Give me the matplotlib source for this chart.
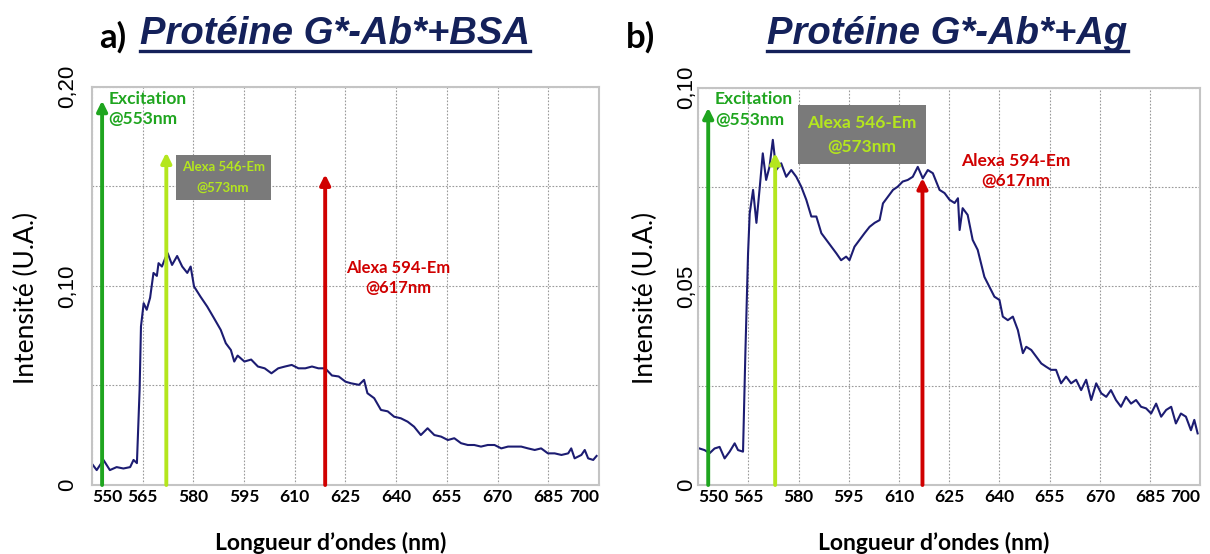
import matplotlib
matplotlib.use("Agg")
import matplotlib.pyplot as plt
from matplotlib.lines import Line2D

# spectrum a) Protéine G*-Ab*+BSA
a_nm = [549.9, 551.4, 553.4, 555.3, 557.3, 559.3, 561.3, 562.3, 563.3, 564.1,
        564.5, 565.3, 566.2, 567.2, 568.2, 569.2, 569.7, 570.7, 571.7, 572.4,
        573.7, 575.2, 576.7, 578.2, 579.2, 580.2, 582.1, 584.1, 586.1, 588.1,
        589.6, 591.1, 592.1, 593.1, 595.1, 597.1, 599.1, 601.1, 603.1, 605.1,
        607.1, 609.1, 611.1, 613.1, 615.1, 617.0, 619.0, 621.0, 623.0, 625.0,
        626.6, 629.0, 630.5, 631.5, 633.5, 635.5, 637.5, 639.4, 641.4, 643.4,
        645.3, 647.3, 649.3, 651.3, 653.3, 655.3, 657.2, 659.2, 661.2, 663.1,
        665.1, 667.1, 669.1, 671.1, 673.1, 675.0, 677.0, 679.0, 681.0, 682.9,
        684.9, 686.9, 688.9, 690.9, 691.8, 692.8, 694.8, 695.8, 696.8, 698.3,
        699.3]
a_val = [0.0109, 0.0075, 0.0126, 0.0075, 0.0090, 0.0083, 0.0090, 0.0126, 0.0110, 0.048,
         0.0796, 0.0913, 0.088, 0.094, 0.1065, 0.105, 0.1114, 0.1097, 0.114, 0.1164,
         0.1105, 0.115, 0.1097, 0.1065, 0.1097, 0.0997, 0.0946, 0.0896, 0.0838, 0.0779,
         0.0712, 0.0678, 0.062, 0.065, 0.062, 0.063, 0.0595, 0.0586, 0.0561, 0.0586,
         0.0595, 0.0603, 0.0586, 0.0586, 0.0595, 0.0586, 0.0586, 0.055, 0.0545, 0.0519,
         0.0511, 0.0503, 0.0528, 0.0461, 0.0436, 0.0377, 0.037, 0.0343, 0.0335, 0.0318,
         0.0293, 0.0251, 0.0285, 0.0251, 0.0243, 0.0226, 0.0235, 0.021, 0.0201, 0.0201,
         0.0193, 0.0201, 0.0201, 0.0184, 0.0193, 0.0193, 0.0193, 0.0184, 0.0176, 0.0184,
         0.0159, 0.0159, 0.0151, 0.0159, 0.0184, 0.0134, 0.0151, 0.0176, 0.0134, 0.0126,
         0.0146]

# spectrum b) Protéine G*-Ab*+Ag
b_nm = [550.4, 551.9, 553.4, 554.9, 556.4, 557.9, 559.4, 560.9, 561.9, 563.4,
        564.1, 564.9, 565.4, 566.4, 567.4, 568.4, 569.3, 570.3, 571.3, 572.3,
        573.3, 574.8, 576.3, 577.8, 579.3, 580.8, 582.3, 583.8, 585.3, 586.8,
        588.3, 589.8, 591.3, 592.7, 594.2, 595.2, 596.7, 598.2, 599.7, 601.2,
        602.7, 604.2, 605.2, 606.7, 608.2, 609.6, 611.1, 612.6, 614.1, 615.6,
        617.1, 618.6, 620.1, 622.1, 623.6, 625.1, 626.6, 627.6, 628.1, 629.0,
        630.5, 632.0, 633.5, 634.5, 635.5, 637.0, 638.5, 640.0, 641.0, 642.5,
        644.0, 645.5, 647.0, 648.0, 649.5, 651.0, 652.5, 653.9, 655.4, 656.9,
        658.4, 659.9, 661.4, 662.9, 664.4, 665.9, 667.4, 668.9, 670.4, 671.9,
        673.3, 674.8, 676.3, 677.8, 679.3, 680.8, 682.3, 683.8, 685.3, 686.8,
        688.3, 689.8, 691.3, 692.7, 694.2, 695.7, 697.2, 698.2, 699.2]
b_val = [0.0092, 0.0088, 0.008, 0.0092, 0.0096, 0.0067, 0.0084, 0.0105, 0.0088, 0.0084,
         0.0332, 0.0583, 0.0684, 0.0743, 0.066, 0.075, 0.0835, 0.0768, 0.0801, 0.0869,
         0.0793, 0.081, 0.0776, 0.0793, 0.0776, 0.0751, 0.0718, 0.0676, 0.0676, 0.0634,
         0.0617, 0.06, 0.0583, 0.0566, 0.0575, 0.0566, 0.06, 0.0617, 0.0634, 0.065,
         0.066, 0.0667, 0.0709, 0.0726, 0.0743, 0.0751, 0.0764, 0.0768, 0.0776, 0.0801,
         0.0772, 0.0793, 0.0785, 0.0743, 0.0735, 0.0718, 0.071, 0.0722, 0.0642, 0.0697,
         0.068, 0.0617, 0.0592, 0.0558, 0.0524, 0.0499, 0.0474, 0.0466, 0.0424, 0.0415,
         0.0424, 0.039, 0.0332, 0.0348, 0.034, 0.0323, 0.0306, 0.0298, 0.029, 0.029,
         0.0256, 0.0273, 0.0256, 0.0265, 0.0239, 0.0265, 0.0214, 0.0256, 0.0231, 0.0222,
         0.0239, 0.0214, 0.0197, 0.0222, 0.0205, 0.0214, 0.0197, 0.0193, 0.018, 0.0205,
         0.0172, 0.0189, 0.0197, 0.0155, 0.018, 0.0172, 0.0138, 0.0164, 0.013]

x_ticks = [550, 565, 580, 595, 610, 625, 640, 655, 670, 685, 700]

# arrow positions (nm) and tops, per panel
a_arrows = [(553, 0.193), (572, 0.167), (619, 0.156)]
b_arrows = [(553, 0.095), (573, 0.0836), (617, 0.0773)]

c_exc = "#1fa51f"
c_546 = "#b4e61e"
c_594 = "#d00000"
c_line = "#1c1c72"
c_title = "#14215a"

fig = plt.figure(figsize=(12.1, 5.54), dpi=100)
ax_a = fig.add_axes([0.076, 0.1245, 0.419, 0.719])
ax_b = fig.add_axes([0.577, 0.1245, 0.415, 0.717])


def comma(v):
    if abs(v) < 1e-9:
        return "0"
    return ("%.2f" % v).replace(".", ",")


def style(ax, ymax, ystep, ylabels, ypad):
    ax.set_xlim(550, 700)
    ax.set_ylim(0, ymax)
    ax.set_xticks(x_ticks)
    yt = [i * ystep for i in range(int(round(ymax / ystep)) + 1)]
    ax.set_yticks(yt)
    ax.set_yticklabels([comma(v) if any(abs(v - l) < 1e-9 for l in ylabels) else "" for v in yt],
                       rotation=90, va="center", family="Liberation Sans", fontsize=16)
    labs = ax.get_xticklabels()
    for lab in labs:
        lab.set_family("Lato")
        lab.set_fontweight("bold")
        lab.set_fontsize(12.5)
    labs[0].set_ha("left")
    labs[-1].set_ha("right")
    ax.tick_params(length=0, pad=3)
    ax.tick_params(axis="y", pad=ypad)
    ax.grid(True, color="#9a9a9a", linestyle=(0, (1.5, 1.5)), linewidth=0.8)
    ax.set_axisbelow(True)
    for s in ax.spines.values():
        s.set_color("#c4c4c4")
        s.set_linewidth(1.5)
    ax.set_ylabel("Intensité (U.A.)", family="Lato", fontsize=19)
    ax.set_xlabel("Longueur d’ondes (nm)", family="Lato", fontweight="bold", fontsize=16.5)


def arrows(ax, arr):
    for (x, top), c in zip(arr, [c_exc, c_546, c_594]):
        ax.annotate("", xy=(x, top), xytext=(x, 0),
                    arrowprops=dict(arrowstyle="-|>", color=c, lw=2.8, mutation_scale=15,
                                    shrinkA=0, shrinkB=0))


style(ax_a, 0.20, 0.05, [0, 0.10, 0.20], 10)
style(ax_b, 0.10, 0.025, [0, 0.05, 0.10], 1)
ax_a.xaxis.set_label_coords(0.47, -0.118)
ax_b.xaxis.set_label_coords(0.47, -0.118)
ax_a.yaxis.set_label_coords(-0.105, 0.47)
ax_b.yaxis.set_label_coords(-0.08, 0.47)

ax_a.plot(a_nm, a_val, color=c_line, lw=1.5)
ax_b.plot(b_nm, b_val, color=c_line, lw=1.5)
arrows(ax_a, a_arrows)
arrows(ax_b, b_arrows)

txt = dict(family="Lato", fontweight="bold", fontsize=12.5, linespacing=1.35)
grey = "#7a7a7a"

ax_a.text(554.9, 0.198, "Excitation\n@553nm", color=c_exc, ha="left", va="top", **txt)
ax_a.text(588.8, 0.1545, "Alexa 546-Em\n@573nm", color=c_546, ha="center", va="center",
          family="Lato", fontweight="bold", fontsize=9.5, linespacing=1.85,
          bbox=dict(boxstyle="square,pad=0.45", facecolor=grey, edgecolor="none"))
ax_a.text(640.5, 0.104, "Alexa 594-Em\n@617nm", color=c_594, ha="center", va="center",
          family="Lato", fontweight="bold", fontsize=12, linespacing=1.35)

ax_b.text(555.0, 0.0992, "Excitation\n@553nm", color=c_exc, ha="left", va="top", **txt)
ax_b.text(599, 0.0882, "Alexa 546-Em\n@573nm", color=c_546, ha="center", va="center",
          family="Lato", fontweight="bold", fontsize=12.5, linespacing=1.6,
          bbox=dict(boxstyle="square,pad=0.55", facecolor=grey, edgecolor="none"))
ax_b.text(645, 0.079, "Alexa 594-Em\n@617nm", color=c_594, ha="center", va="center", **txt)

fig.text(0.093, 0.933, "a)", family="Lato", fontweight="bold", fontsize=25, ha="center", va="center")
fig.text(0.529, 0.933, "b)", family="Lato", fontweight="bold", fontsize=25, ha="center", va="center")
t_a = fig.text(0.277, 0.938, "Protéine G*-Ab*+BSA", family="Liberation Sans", fontweight="bold",
               style="italic", fontsize=27.5, color=c_title, ha="center", va="center")
t_b = fig.text(0.783, 0.938, "Protéine G*-Ab*+Ag", family="Liberation Sans", fontweight="bold",
               style="italic", fontsize=27.5, color=c_title, ha="center", va="center")

# underline the titles
fig.canvas.draw()
r = fig.canvas.get_renderer()
W, H = fig.bbox.width, fig.bbox.height
for t in (t_a, t_b):
    bb = t.get_window_extent(r)
    y = (bb.y0 + 1) / H
    fig.add_artist(Line2D([bb.x0 / W, bb.x1 / W], [y, y], transform=fig.transFigure,
                          color=c_title, lw=2.4))

fig.savefig("out.png", dpi=100)
